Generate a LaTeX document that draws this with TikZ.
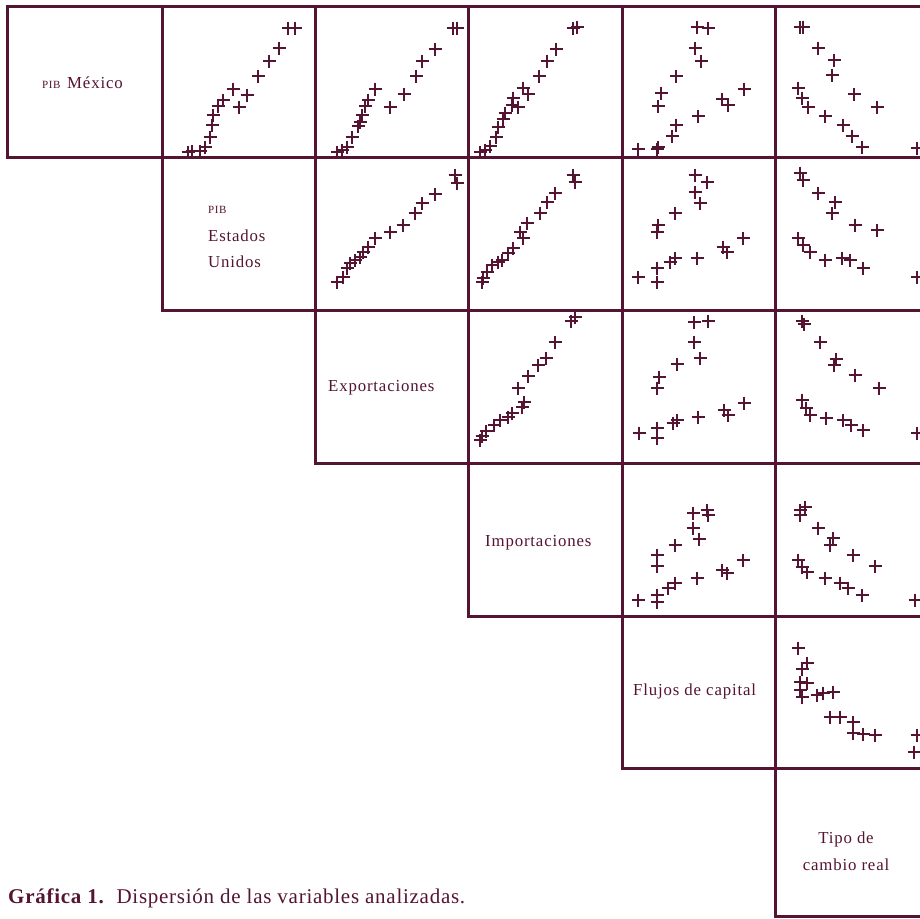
\documentclass[tikz,border=0pt]{standalone}
\usepackage{fontspec}
\setmainfont{Liberation Serif}
\newfontfamily\lbf[LetterSpace=5]{Liberation Serif}
\newfontfamily\capf[LetterSpace=3.5]{Liberation Serif}
\definecolor{mar}{RGB}{84,20,50}
\begin{document}
\begin{tikzpicture}[x=1pt,y=-1pt,
  gridline/.style={draw=mar,line width=3pt,line cap=rect},
  mk/.style={draw=mar,line width=2.8pt},
  lbl/.style={text=mar,inner sep=0pt,anchor=base west,font=\lbf\fontsize{16.8}{18}\selectfont},
  pibl/.style={text=mar,inner sep=0pt,anchor=base west,font=\lbf\fontsize{11}{12}\selectfont},
  ctr/.style={text=mar,inner sep=0pt,anchor=base,font=\lbf\fontsize{16.8}{18}\selectfont},
  capt/.style={text=mar,inner sep=0pt,anchor=base west,font=\capf\fontsize{21}{23}\selectfont},
  plus/.pic={\draw[mk] (-6.5,0)--(6.5,0) (0,-6.5)--(0,6.5);}
]
\useasboundingbox (0,0) rectangle (920,918);
\fill[white] (0,0) rectangle (920,918);
% grid
\draw[gridline] (7,6) -- (920,6);
\draw[gridline] (7,157) -- (920,157);
\draw[gridline] (162,310) -- (920,310);
\draw[gridline] (315,463) -- (920,463);
\draw[gridline] (468,616) -- (920,616);
\draw[gridline] (622,768) -- (920,768);
\draw[gridline] (775,916) -- (920,916);
\draw[gridline] (7,6) -- (7,157);
\draw[gridline] (162,6) -- (162,310);
\draw[gridline] (315,6) -- (315,463);
\draw[gridline] (468,6) -- (468,616);
\draw[gridline] (622,6) -- (622,768);
\draw[gridline] (775,6) -- (775,916);
% labels
\node[pibl] (l1a) at (42,88) {PIB};
\node[lbl] (l1b) at (67,88) {México};
\node[pibl] (l2a) at (208,213) {PIB};
\node[lbl] (l2b) at (208,241) {Estados};
\node[lbl] (l2c) at (208,267) {Unidos};
\node[lbl] (l3) at (328,391) {Exportaciones};
\node[lbl] (l4) at (485,546) {Importaciones};
\node[lbl] (l5) at (633,695) {Flujos de capital};
\node[ctr] (l6a) at (846,843) {Tipo de};
\node[ctr] (l6b) at (846,870) {cambio real};
\node[capt] (cap) at (8,903) {\textbf{Gráfica 1.}\ \ Dispersión de las variables analizadas.};
% row 1
\foreach \a/\b in {288/28,295/28,279/48,269/61,258/76,233/89,247/95,223/100,218/106,239/107,213/115,212/125,210/137,205/147,200/151,192/151,188/152}
  \pic at (\a,\b) {plus};
\foreach \a/\b in {457/28,453/28,435/49,422/61,416/76,404/94,390/107,375/89,368/100,365/106,362/115,360/122,358/126,352/137,347/147,342/150,337/152}
  \pic at (\a,\b) {plus};
\foreach \a/\b in {573/28,577/27,556/49,547/61,539/76,523/88,528/94,513/98,512/105,518/107,505/113,503/119,498/127,496/137,490/146,485/150,480/152}
  \pic at (\a,\b) {plus};
\foreach \a/\b in {697/27,708/28,695/48,701/61,676/76,661/93,658/106,744/89,722/99,728/105,698/116,676/125,672/136,658/147,657/149,638/149}
  \pic at (\a,\b) {plus};
\foreach \a/\b in {800/27,803/27,818/48,834/60,832/75,854/94,877/107,798/88,802/98,808/107,825/116,843/125,852/136,862/147,917/148}
  \pic at (\a,\b) {plus};
% row 2
\foreach \a/\b in {455/175,457/183,435/194,422/203,415/213,403/225,390/232,375/238,368/247,363/252,360/257,355/260,350/263,347/268,343/277,337/282}
  \pic at (\a,\b) {plus};
\foreach \a/\b in {573/175,575/182,555/193,547/202,540/213,527/223,520/232,523/238,513/248,508/253,502/260,498/262,492/265,487/272,483/278,482/282}
  \pic at (\a,\b) {plus};
\foreach \a/\b in {695/175,707/182,695/192,700/203,675/213,658/225,657/232,638/277,657/268,657/282,670/262,675/258,697/258,723/247,727/252,743/238}
  \pic at (\a,\b) {plus};
\foreach \a/\b in {800/173,803/180,818/193,835/202,832/213,855/225,877/230,798/238,803/245,810/252,825/260,842/258,850/260,863/268,917/277}
  \pic at (\a,\b) {plus};
% row 3
\foreach \a/\b in {571/321,575/317,555/342,546/358,538/365,528/376,518/388,524/402,522/407,512/413,508/417,500/420,494/425,486/431,482/436,480/440}
  \pic at (\a,\b) {plus};
\foreach \a/\b in {694/322,708/321,694/342,700/358,677/364,659/377,657/388,639/433,657/428,657/438,673/423,677/420,698/417,724/410,728/415,744/403}
  \pic at (\a,\b) {plus};
\foreach \a/\b in {802/321,804/324,820/342,836/359,834/365,855/375,879/388,802/400,806/408,810/415,826/418,843/420,851/425,863/430,917/433}
  \pic at (\a,\b) {plus};
% row 4
\foreach \a/\b in {693/513,707/510,708/515,693/528,699/539,675/545,657/555,657/566,638/600,657/595,657/602,668/588,675/583,697/578,722/570,727/573,743/560}
  \pic at (\a,\b) {plus};
\foreach \a/\b in {800/510,805/507,800/515,818/528,833/538,830/545,853/555,875/566,798/560,802/567,807/572,825/578,840/583,848/588,862/595,915/600}
  \pic at (\a,\b) {plus};
% row 5
\foreach \a/\b in {798/648,807/663,802/669,800/682,807/683,800/690,802/697,817/695,823/693,833/692,830/717,840/717,853/722,853/733,863/734,875/735,917/735,914/752}
  \pic at (\a,\b) {plus};
\end{tikzpicture}
\end{document}
